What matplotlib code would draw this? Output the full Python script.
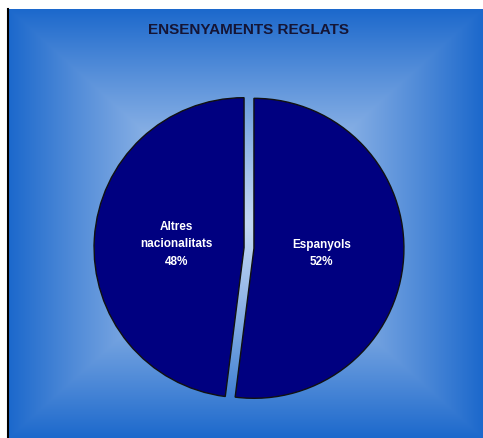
import matplotlib.pyplot as plt
import numpy as np

# dades
categories = ['Espanyols', 'Altres\nnacionalitats']
values = [52, 48]
title = 'ENSENYAMENTS REGLATS'

W, H = 483, 439
fig = plt.figure(figsize=(W / 100, H / 100), dpi=100)
fig.patch.set_facecolor('white')

# fons amb degradat rectangular (clar al centre, blau a les vores)
bg = fig.add_axes([0, 0, 1, 1])
bg.set_xlim(0, W)
bg.set_ylim(H, 0)
bg.axis('off')
x0, x1, y0, y1 = 9, W, 10, H
xx, yy = np.meshgrid(np.linspace(-1, 1, 400), np.linspace(-1, 1, 400))
t = np.maximum(np.abs(xx), np.abs(yy))
t = np.clip(t, 0, 1) ** 1.2
c_in = np.array([0.76, 0.84, 0.95])
c_out = np.array([0.11, 0.41, 0.80])
img = c_in[None, None, :] * (1 - t[..., None]) + c_out[None, None, :] * t[..., None]
bg.imshow(img, extent=[x0, x1, y1, y0], aspect='auto', interpolation='bilinear')
bg.plot([8, 8], [10, H], color='black', lw=1.5)
bg.text(248, 30, title, ha='center', va='center', fontsize=11, fontweight='bold',
        family='Liberation Sans', color='#151535')

# pastís
cx, cy, R = 249, 249, 150
size = 2 * 1.1 * R
ax = fig.add_axes([(cx - size / 2) / W, (H - cy - size / 2) / H, size / W, size / H])
labels = [f'{c}\n{v}%' for c, v in zip(categories, values)]
wedges, texts = ax.pie(values, labels=labels, colors=['#000080', '#000080'],
                       startangle=90, counterclock=False, explode=[0.033, 0.033],
                       labeldistance=0.45, radius=1,
                       wedgeprops=dict(edgecolor='#111111', linewidth=1),
                       textprops=dict(color='white', fontsize=8.5, fontweight='bold',
                                      family='Liberation Sans', linespacing=1.6))
for tx in texts:
    tx.set_ha('center')
    tx.set_va('center')
    tx.set_multialignment('center')
ax.set_aspect('equal')
ax.set_xlim(-1.1, 1.1)
ax.set_ylim(-1.1, 1.1)
ax.axis('off')

plt.savefig('out.png', dpi=100)
